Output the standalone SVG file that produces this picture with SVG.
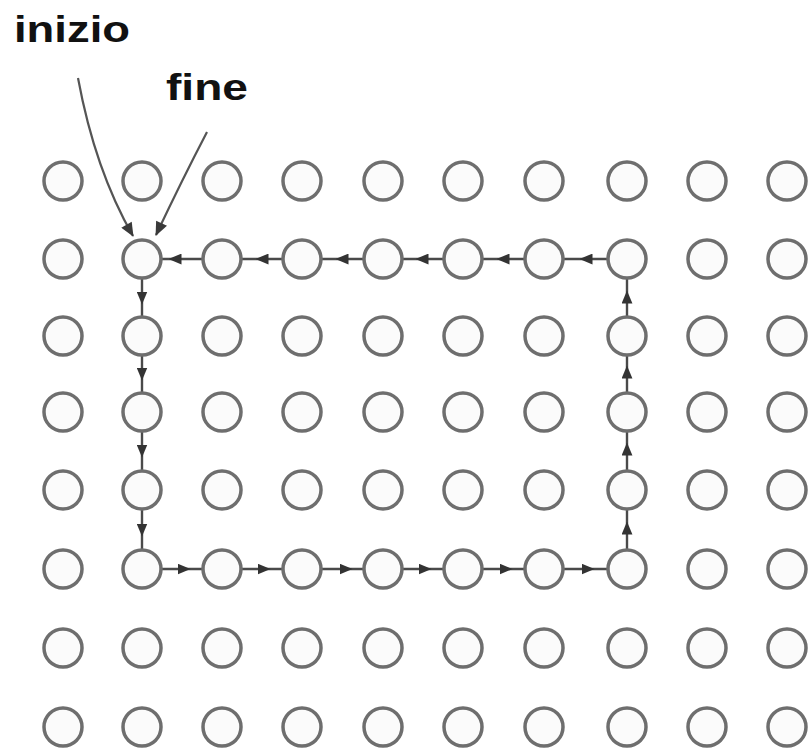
<svg xmlns="http://www.w3.org/2000/svg" width="809" height="756" viewBox="0 0 809 756">
<defs>
<style>
.n{fill:#fbfbfb;stroke:#6e6e6e;stroke-width:3.5}
.c{fill:none;stroke:#4a4a4a;stroke-width:2.4;marker-mid:url(#ah)}
.p{fill:none;stroke:#555;stroke-width:2.2;marker-end:url(#ahe)}
.t{font-family:"Liberation Sans",Arial,sans-serif;font-weight:bold;font-size:36px;fill:#111}
</style>
<marker id="ah" viewBox="0 0 12 10" refX="6" refY="5" markerWidth="13" markerHeight="11" markerUnits="userSpaceOnUse" orient="auto"><path d="M0,0 L12,5 L0,10 Z" fill="#333"/></marker>
<marker id="ahe" viewBox="0 0 14 12" refX="13" refY="6" markerWidth="15" markerHeight="12" markerUnits="userSpaceOnUse" orient="auto"><path d="M0,0 L14,6 L0,12 Z" fill="#3a3a3a"/></marker>
</defs>
<rect width="809" height="756" fill="#fff"/>
<g id="labels">
<text class="t" x="14" y="42" textLength="116" lengthAdjust="spacingAndGlyphs">inizio</text>
<text class="t" x="166" y="100" textLength="82" lengthAdjust="spacingAndGlyphs">fine</text>
</g>
<g id="connectors">
<path class="p" d="M78,78 Q95,170 133,236"/>
<path class="p" d="M207,132 Q182,180 156,235"/>
<path class="c" d="M142,278 L142,298 L142,317"/>
<path class="c" d="M142,355 L142,374 L142,393"/>
<path class="c" d="M142,431 L142,451 L142,471"/>
<path class="c" d="M142,509 L142,530 L142,550"/>
<path class="c" d="M161,569 L184,569 L203,569"/>
<path class="c" d="M241,569 L264,569 L283,569"/>
<path class="c" d="M321,569 L346,569 L364,569"/>
<path class="c" d="M402,569 L425,569 L444,569"/>
<path class="c" d="M482,569 L506,569 L525,569"/>
<path class="c" d="M563,569 L588,569 L608,569"/>
<path class="c" d="M627,550 L627,528 L627,509"/>
<path class="c" d="M627,471 L627,449 L627,431"/>
<path class="c" d="M627,393 L627,372 L627,355"/>
<path class="c" d="M627,317 L627,297 L627,278"/>
<path class="c" d="M608,259 L586,259 L563,259"/>
<path class="c" d="M525,259 L503,259 L482,259"/>
<path class="c" d="M444,259 L422,259 L402,259"/>
<path class="c" d="M364,259 L342,259 L321,259"/>
<path class="c" d="M283,259 L262,259 L241,259"/>
<path class="c" d="M203,259 L175,259 L161,259"/>
</g>
<g id="nodes">
<g id="n0-0"><circle class="n" cx="63" cy="181" r="19"/></g>
<g id="n0-1"><circle class="n" cx="142" cy="181" r="19"/></g>
<g id="n0-2"><circle class="n" cx="222" cy="181" r="19"/></g>
<g id="n0-3"><circle class="n" cx="302" cy="181" r="19"/></g>
<g id="n0-4"><circle class="n" cx="383" cy="181" r="19"/></g>
<g id="n0-5"><circle class="n" cx="463" cy="181" r="19"/></g>
<g id="n0-6"><circle class="n" cx="544" cy="181" r="19"/></g>
<g id="n0-7"><circle class="n" cx="627" cy="181" r="19"/></g>
<g id="n0-8"><circle class="n" cx="707" cy="181" r="19"/></g>
<g id="n0-9"><circle class="n" cx="787" cy="181" r="19"/></g>
<g id="n1-0"><circle class="n" cx="63" cy="259" r="19"/></g>
<g id="n1-1"><circle class="n" cx="142" cy="259" r="19"/></g>
<g id="n1-2"><circle class="n" cx="222" cy="259" r="19"/></g>
<g id="n1-3"><circle class="n" cx="302" cy="259" r="19"/></g>
<g id="n1-4"><circle class="n" cx="383" cy="259" r="19"/></g>
<g id="n1-5"><circle class="n" cx="463" cy="259" r="19"/></g>
<g id="n1-6"><circle class="n" cx="544" cy="259" r="19"/></g>
<g id="n1-7"><circle class="n" cx="627" cy="259" r="19"/></g>
<g id="n1-8"><circle class="n" cx="707" cy="259" r="19"/></g>
<g id="n1-9"><circle class="n" cx="787" cy="259" r="19"/></g>
<g id="n2-0"><circle class="n" cx="63" cy="336" r="19"/></g>
<g id="n2-1"><circle class="n" cx="142" cy="336" r="19"/></g>
<g id="n2-2"><circle class="n" cx="222" cy="336" r="19"/></g>
<g id="n2-3"><circle class="n" cx="302" cy="336" r="19"/></g>
<g id="n2-4"><circle class="n" cx="383" cy="336" r="19"/></g>
<g id="n2-5"><circle class="n" cx="463" cy="336" r="19"/></g>
<g id="n2-6"><circle class="n" cx="544" cy="336" r="19"/></g>
<g id="n2-7"><circle class="n" cx="627" cy="336" r="19"/></g>
<g id="n2-8"><circle class="n" cx="707" cy="336" r="19"/></g>
<g id="n2-9"><circle class="n" cx="787" cy="336" r="19"/></g>
<g id="n3-0"><circle class="n" cx="63" cy="412" r="19"/></g>
<g id="n3-1"><circle class="n" cx="142" cy="412" r="19"/></g>
<g id="n3-2"><circle class="n" cx="222" cy="412" r="19"/></g>
<g id="n3-3"><circle class="n" cx="302" cy="412" r="19"/></g>
<g id="n3-4"><circle class="n" cx="383" cy="412" r="19"/></g>
<g id="n3-5"><circle class="n" cx="463" cy="412" r="19"/></g>
<g id="n3-6"><circle class="n" cx="544" cy="412" r="19"/></g>
<g id="n3-7"><circle class="n" cx="627" cy="412" r="19"/></g>
<g id="n3-8"><circle class="n" cx="707" cy="412" r="19"/></g>
<g id="n3-9"><circle class="n" cx="787" cy="412" r="19"/></g>
<g id="n4-0"><circle class="n" cx="63" cy="490" r="19"/></g>
<g id="n4-1"><circle class="n" cx="142" cy="490" r="19"/></g>
<g id="n4-2"><circle class="n" cx="222" cy="490" r="19"/></g>
<g id="n4-3"><circle class="n" cx="302" cy="490" r="19"/></g>
<g id="n4-4"><circle class="n" cx="383" cy="490" r="19"/></g>
<g id="n4-5"><circle class="n" cx="463" cy="490" r="19"/></g>
<g id="n4-6"><circle class="n" cx="544" cy="490" r="19"/></g>
<g id="n4-7"><circle class="n" cx="627" cy="490" r="19"/></g>
<g id="n4-8"><circle class="n" cx="707" cy="490" r="19"/></g>
<g id="n4-9"><circle class="n" cx="787" cy="490" r="19"/></g>
<g id="n5-0"><circle class="n" cx="63" cy="569" r="19"/></g>
<g id="n5-1"><circle class="n" cx="142" cy="569" r="19"/></g>
<g id="n5-2"><circle class="n" cx="222" cy="569" r="19"/></g>
<g id="n5-3"><circle class="n" cx="302" cy="569" r="19"/></g>
<g id="n5-4"><circle class="n" cx="383" cy="569" r="19"/></g>
<g id="n5-5"><circle class="n" cx="463" cy="569" r="19"/></g>
<g id="n5-6"><circle class="n" cx="544" cy="569" r="19"/></g>
<g id="n5-7"><circle class="n" cx="627" cy="569" r="19"/></g>
<g id="n5-8"><circle class="n" cx="707" cy="569" r="19"/></g>
<g id="n5-9"><circle class="n" cx="787" cy="569" r="19"/></g>
<g id="n6-0"><circle class="n" cx="63" cy="648" r="19"/></g>
<g id="n6-1"><circle class="n" cx="142" cy="648" r="19"/></g>
<g id="n6-2"><circle class="n" cx="222" cy="648" r="19"/></g>
<g id="n6-3"><circle class="n" cx="302" cy="648" r="19"/></g>
<g id="n6-4"><circle class="n" cx="383" cy="648" r="19"/></g>
<g id="n6-5"><circle class="n" cx="463" cy="648" r="19"/></g>
<g id="n6-6"><circle class="n" cx="544" cy="648" r="19"/></g>
<g id="n6-7"><circle class="n" cx="627" cy="648" r="19"/></g>
<g id="n6-8"><circle class="n" cx="707" cy="648" r="19"/></g>
<g id="n6-9"><circle class="n" cx="787" cy="648" r="19"/></g>
<g id="n7-0"><circle class="n" cx="63" cy="727" r="19"/></g>
<g id="n7-1"><circle class="n" cx="142" cy="727" r="19"/></g>
<g id="n7-2"><circle class="n" cx="222" cy="727" r="19"/></g>
<g id="n7-3"><circle class="n" cx="302" cy="727" r="19"/></g>
<g id="n7-4"><circle class="n" cx="383" cy="727" r="19"/></g>
<g id="n7-5"><circle class="n" cx="463" cy="727" r="19"/></g>
<g id="n7-6"><circle class="n" cx="544" cy="727" r="19"/></g>
<g id="n7-7"><circle class="n" cx="627" cy="727" r="19"/></g>
<g id="n7-8"><circle class="n" cx="707" cy="727" r="19"/></g>
<g id="n7-9"><circle class="n" cx="787" cy="727" r="19"/></g>
</g>
</svg>
